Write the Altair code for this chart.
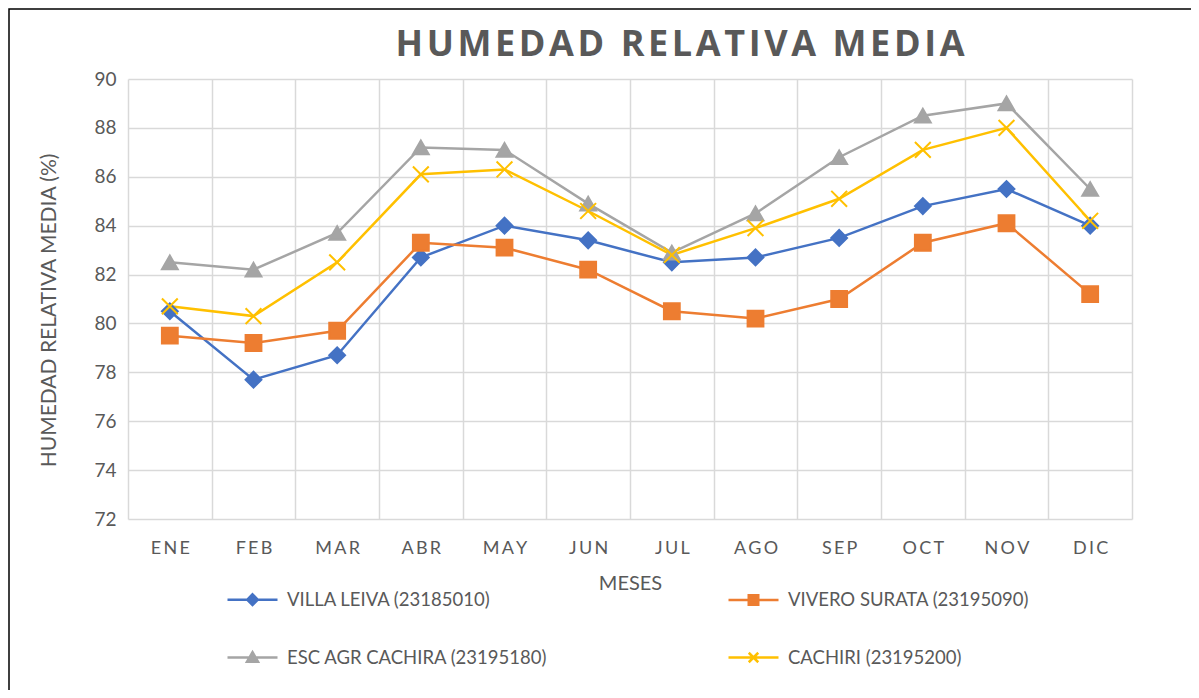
import altair as alt
import pandas as pd

meses = ["ENE", "FEB", "MAR", "ABR", "MAY", "JUN", "JUL", "AGO", "SEP", "OCT", "NOV", "DIC"]
series = ["VILLA LEIVA (23185010)", "VIVERO SURATA (23195090)",
          "ESC AGR CACHIRA (23195180)", "CACHIRI (23195200)"]
villa_leiva = [80.5, 77.7, 78.7, 82.7, 84.0, 83.4, 82.5, 82.7, 83.5, 84.8, 85.5, 84.0]
vivero_surata = [79.5, 79.2, 79.7, 83.3, 83.1, 82.2, 80.5, 80.2, 81.0, 83.3, 84.1, 81.2]
esc_agr_cachira = [82.5, 82.2, 83.7, 87.2, 87.1, 84.9, 82.9, 84.5, 86.8, 88.5, 89.0, 85.5]
cachiri = [80.7, 80.3, 82.5, 86.1, 86.3, 84.6, 82.8, 83.9, 85.1, 87.1, 88.0, 84.2]
titulo = "HUMEDAD RELATIVA MEDIA"

colors = ["#4472C4", "#ED7D31", "#A5A5A5", "#FFC000"]
marker_shapes = ["diamond", "square", "triangle-up", "M-1,-1L1,1M-1,1L1,-1"]
legend_shapes = [
    "M-1,0L1,0M0,-0.21L0.21,0L0,0.21L-0.21,0Z",
    "M-1,0L1,0M-0.19,-0.19L0.19,-0.19L0.19,0.19L-0.19,0.19Z",
    "M-1,0L1,0M0,-0.21L0.22,0.17L-0.22,0.17Z",
    "M-1,0L1,0M-0.19,-0.19L0.19,0.19M-0.19,0.19L0.19,-0.19",
]
# legend is laid out column-major: order the entries so rows read as in the reference
legend_order = [series[0], series[2], series[1], series[3]]
legend_colors = [colors[0], colors[2], colors[1], colors[3]]
legend_paths = [legend_shapes[0], legend_shapes[2], legend_shapes[1], legend_shapes[3]]

rows = []
for name, vals in zip(series, [villa_leiva, vivero_surata, esc_agr_cachira, cachiri]):
    for m, v in zip(meses, vals):
        rows.append({"Mes": m, "Serie": name, "Valor": v})
df = pd.DataFrame(rows)

FONT = "Lato"
GRAY = "#595959"

x_enc = alt.X("Mes:N", sort=meses,
              scale=alt.Scale(paddingInner=0, paddingOuter=0),
              axis=alt.Axis(title="MESES", tickBand="extent", grid=True, ticks=False,
                            domain=False, labelAngle=0, labelPadding=20, titlePadding=16,
                            labelExpr="join(split(datum.label, ''), '\u2009')"))
y_enc = alt.Y("Valor:Q", scale=alt.Scale(domain=[72, 90], nice=False, zero=False),
              axis=alt.Axis(title="HUMEDAD RELATIVA MEDIA (%)", values=list(range(72, 91, 2)),
                            ticks=False, domain=False, labelPadding=12, titlePadding=34,
                            labelFontSize=19, titleFontSize=21, titleY=231))

lines = alt.Chart(df).mark_line(strokeWidth=2.5).encode(
    x=x_enc, y=y_enc,
    color=alt.Color("Serie:N", scale=alt.Scale(domain=series, range=colors), legend=None),
)

points = alt.Chart(df).mark_point(filled=True, size=250, strokeWidth=2, opacity=1).encode(
    x=x_enc, y=y_enc,
    fill=alt.Fill("Serie:N", scale=alt.Scale(domain=series, range=colors), legend=None),
    stroke=alt.Stroke("Serie:N", scale=alt.Scale(domain=series, range=colors), legend=None),
    shape=alt.Shape("Serie:N", scale=alt.Scale(domain=series, range=marker_shapes), legend=None),
)

leg = alt.Legend(title=None, orient="none", legendX=98, legendY=494, columns=2,
                 gridAlign="all", columnPadding=175, rowPadding=21, symbolSize=2500,
                 symbolStrokeWidth=2.5, labelOffset=8, labelFontSize=18.5, labelFont=FONT,
                 labelColor=GRAY, padding=0, labelLimit=400, symbolOpacity=1)

legend_layer = alt.Chart(df).transform_filter("false").mark_point(filled=True, opacity=1).encode(
    fill=alt.Fill("Serie:N", scale=alt.Scale(domain=legend_order, range=legend_colors), legend=leg),
    stroke=alt.Stroke("Serie:N", scale=alt.Scale(domain=legend_order, range=legend_colors), legend=leg),
    shape=alt.Shape("Serie:N", scale=alt.Scale(domain=legend_order, range=legend_paths), legend=leg),
)

frame = alt.Chart(alt.Data(values=[{"a": 1}])).mark_rect(
    fill="transparent", stroke="#000000", strokeWidth=1.5).encode(
    x=alt.value(-119), x2=alt.value(1200), y=alt.value(-70), y2=alt.value(800)
)

title_layer = alt.Chart(alt.Data(values=[{"t": titulo}])).transform_calculate(
    ts="join(split(datum.t, ''), '\u200a')"
).mark_text(
    font="Open Sans", fontSize=36, fontWeight="bold", color=GRAY, align="center",
    baseline="alphabetic").encode(
    text="ts:N", x=alt.value(552), y=alt.value(-23)
)

chart = alt.layer(frame, lines, points, legend_layer, title_layer).resolve_scale(
    color="independent", fill="independent", stroke="independent", shape="independent"
).properties(
    width=1004, height=440,
    autosize=alt.AutoSizeParams(type="none"),
    padding={"left": 120, "top": 71, "right": 59, "bottom": 171},
).configure_view(stroke=None).configure_axis(
    gridColor="#D9D9D9", gridWidth=1.5, labelFont=FONT, titleFont=FONT,
    labelColor=GRAY, titleColor=GRAY, labelFontSize=18, titleFontSize=19, titleFontWeight="normal",
).configure_axisX(titleFontSize=20)

chart.save("out.html", embed_options={"renderer": "svg", "actions": False})
